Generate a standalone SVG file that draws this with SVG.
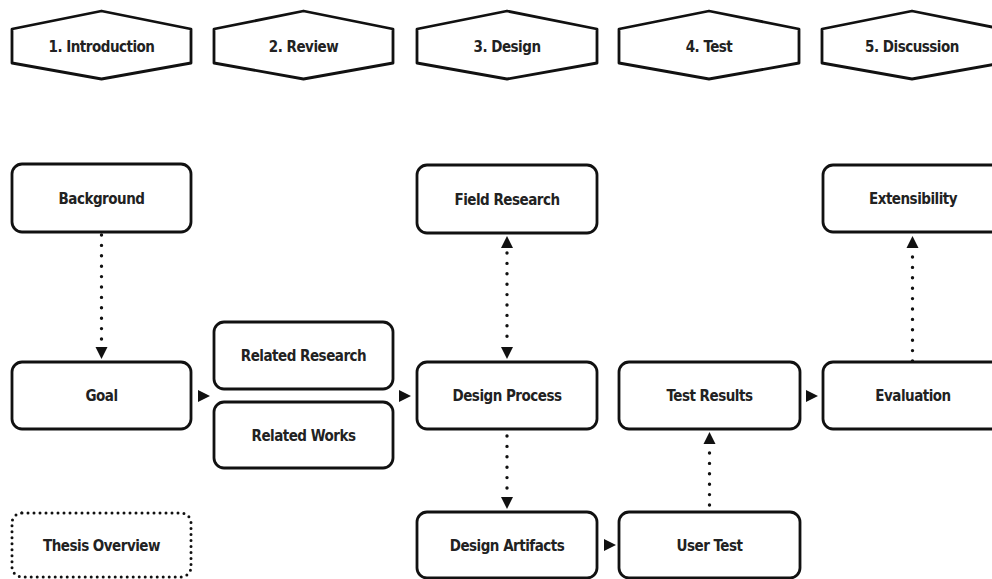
<svg xmlns="http://www.w3.org/2000/svg" width="992" height="579" viewBox="0 0 992 579">
  <style>
    .hex, .box { fill: #fff; stroke: #111; stroke-width: 2.8; stroke-linejoin: round; }
    .dotbox { fill: #fff; stroke: #111; stroke-width: 3; stroke-dasharray: 0 6; stroke-linecap: round; }
    .lbl { font-family: "DejaVu Sans Condensed", "DejaVu Sans", sans-serif; font-weight: bold; font-size: 15px; letter-spacing: -0.5px; fill: #222; text-anchor: middle; }
    .dots { fill: none; stroke: #111; stroke-width: 3.4; stroke-dasharray: 0 10.4; stroke-linecap: round; }
    .head { fill: #111; }
  </style>
  <defs>
    <!-- solid arrowhead pointing right, tip at origin -->
    <path id="tri" d="M0,0 L-12,-6 L-12,6 Z"/>
  </defs>
  <rect width="992" height="579" fill="#fff"/>

  <!-- chapter headers -->
  <g id="h1"><polygon class="hex" points="12,29 101.5,11 191,29 191,63 101.5,79 12,63"/><text class="lbl" x="101.5" y="51.5">1. Introduction</text></g>
  <g id="h2"><polygon class="hex" points="214,29 303.5,11 393,29 393,63 303.5,79 214,63"/><text class="lbl" x="303.5" y="51.5">2. Review</text></g>
  <g id="h3"><polygon class="hex" points="417,29 507,11 597,29 597,63 507,79 417,63"/><text class="lbl" x="507" y="51.5">3. Design</text></g>
  <g id="h4"><polygon class="hex" points="619,29 709,11 799,29 799,63 709,79 619,63"/><text class="lbl" x="709" y="51.5">4. Test</text></g>
  <g id="h5"><polygon class="hex" points="822,29 912,11 1002,29 1002,63 912,79 822,63"/><text class="lbl" x="912" y="51.5">5. Discussion</text></g>

  <!-- nodes -->
  <g id="background"><rect class="box" x="12" y="164" width="179" height="68" rx="10"/><text class="lbl" x="101.5" y="203.5">Background</text></g>
  <g id="goal"><rect class="box" x="12" y="362" width="179" height="67" rx="10"/><text class="lbl" x="101.5" y="401">Goal</text></g>
  <g id="thesis-overview"><rect class="dotbox" x="12" y="513" width="179" height="64" rx="10"/><text class="lbl" x="101.5" y="550.5">Thesis Overview</text></g>
  <g id="related-research"><rect class="box" x="214" y="322" width="179" height="67" rx="10"/><text class="lbl" x="303.5" y="361">Related Research</text></g>
  <g id="related-works"><rect class="box" x="214" y="402" width="179" height="66" rx="10"/><text class="lbl" x="303.5" y="440.5">Related Works</text></g>
  <g id="field-research"><rect class="box" x="417" y="165" width="180" height="68" rx="10"/><text class="lbl" x="507" y="204.5">Field Research</text></g>
  <g id="design-process"><rect class="box" x="417" y="362" width="180" height="67" rx="10"/><text class="lbl" x="507" y="401">Design Process</text></g>
  <g id="design-artifacts"><rect class="box" x="417" y="512" width="180" height="66" rx="10"/><text class="lbl" x="507" y="550.5">Design Artifacts</text></g>
  <g id="test-results"><rect class="box" x="619" y="362" width="181" height="67" rx="10"/><text class="lbl" x="709.5" y="401">Test Results</text></g>
  <g id="user-test"><rect class="box" x="619" y="512" width="181" height="66" rx="10"/><text class="lbl" x="709.5" y="550.5">User Test</text></g>
  <g id="extensibility"><rect class="box" x="823" y="165" width="180" height="67" rx="10"/><text class="lbl" x="913" y="203.5">Extensibility</text></g>
  <g id="evaluation"><rect class="box" x="823" y="362" width="180" height="67" rx="10"/><text class="lbl" x="913" y="401">Evaluation</text></g>

  <!-- connectors -->
  <g id="connectors">
    <!-- Background -> Goal -->
    <line class="dots" x1="101.5" y1="235" x2="101.5" y2="340"/>
    <use href="#tri" class="head" transform="translate(101.5,359) rotate(90)"/>
    <!-- Goal -> Related -->
    <use href="#tri" class="head" transform="translate(210,396)"/>
    <!-- Related -> Design Process -->
    <use href="#tri" class="head" transform="translate(411,396)"/>
    <!-- Field Research <-> Design Process -->
    <line class="dots" x1="507" y1="253" x2="507" y2="340"/>
    <use href="#tri" class="head" transform="translate(507,236) rotate(-90)"/>
    <use href="#tri" class="head" transform="translate(507,359) rotate(90)"/>
    <!-- Design Process -> Design Artifacts -->
    <line class="dots" x1="507" y1="436" x2="507" y2="490"/>
    <use href="#tri" class="head" transform="translate(507,509) rotate(90)"/>
    <!-- Design Artifacts -> User Test -->
    <use href="#tri" class="head" transform="translate(616,545)"/>
    <!-- User Test -> Test Results -->
    <line class="dots" x1="709.5" y1="505" x2="709.5" y2="450"/>
    <use href="#tri" class="head" transform="translate(709.5,432) rotate(-90)"/>
    <!-- Test Results -> Evaluation -->
    <use href="#tri" class="head" transform="translate(818,396)"/>
    <!-- Evaluation -> Extensibility -->
    <line class="dots" x1="912.5" y1="361" x2="912.5" y2="253"/>
    <use href="#tri" class="head" transform="translate(912.5,236) rotate(-90)"/>
  </g>
</svg>
